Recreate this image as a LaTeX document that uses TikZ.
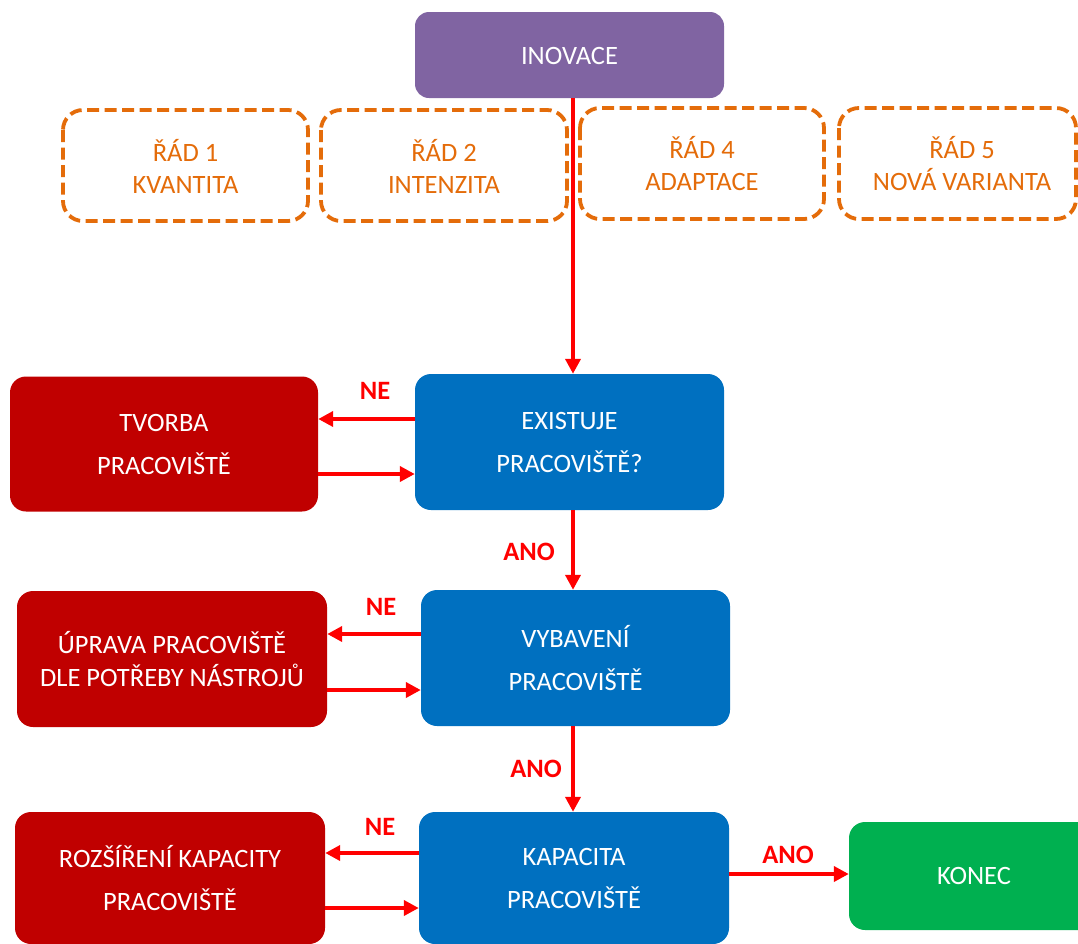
\documentclass[tikz,border=0pt]{standalone}
\usepackage{fontspec}
\setmainfont{Carlito}
\usetikzlibrary{arrows.meta}
\definecolor{purp}{HTML}{8064A2}
\definecolor{blu}{HTML}{0070C0}
\definecolor{dred}{HTML}{C00000}
\definecolor{grn}{HTML}{00B050}
\definecolor{orng}{HTML}{E46C0A}
\definecolor{arr}{HTML}{FF0000}
\begin{document}
\begin{tikzpicture}[x=1pt,y=-1pt,
  box/.style={rounded corners=16pt,text=white,font=\fontsize{26.5}{43}\selectfont,align=center,inner sep=0pt},
  dbox/.style={draw=orng,line width=3.8pt,dash pattern=on 12pt off 5.5pt,rounded corners=20pt,text=orng,font=\fontsize{26.5}{32}\selectfont,align=center,inner sep=0pt},
  conn/.style={draw=arr,line width=4pt,-{Triangle[length=15pt,width=15pt]}},
  lab/.style={text=arr,font=\bfseries\fontsize{26.5}{30}\selectfont,inner sep=0pt}]
\useasboundingbox (0,0) rectangle (1078,943);
% top
\fill[purp,rounded corners=14pt] (415,12) rectangle (724,98);
\node[box] (inov) at (569.5,56) {INOVACE};
\coordinate (inovS) at (573,98);
% dashed boxes
\draw[dbox] (63,110) rectangle (308,221);
\node[dbox,draw=none] (r1) at (185.5,166) {ŘÁD 1\\KVANTITA};
\draw[dbox] (321,110) rectangle (567,221);
\node[dbox,draw=none] (r2) at (444,166) {ŘÁD 2\\INTENZITA};
\draw[dbox] (580,108) rectangle (824,219);
\node[dbox,draw=none] (r4) at (702,164) {ŘÁD 4\\ADAPTACE};
\draw[dbox] (839,108) rectangle (1076,219);
\node[dbox,draw=none] (r5) at (962,164) {ŘÁD 5\\NOVÁ VARIANTA};
% row 1
\node[box,fill=blu,minimum width=309pt,minimum height=136pt] (ex) at (569.5,442) {EXISTUJE\\PRACOVIŠTĚ?};
\node[box,fill=dred,minimum width=308pt,minimum height=135pt] (tv) at (164,444) {TVORBA\\PRACOVIŠTĚ};
% row 2
\node[box,fill=blu,minimum width=309pt,minimum height=136pt] (vy) at (575.5,658) {VYBAVENÍ\\PRACOVIŠTĚ};
\node[box,fill=dred,minimum width=310pt,minimum height=136pt,font=\fontsize{26.5}{33}\selectfont] (up) at (172,659) {ÚPRAVA PRACOVIŠTĚ\\DLE POTŘEBY NÁSTROJŮ};
% row 3
\node[box,fill=blu,minimum width=310pt,minimum height=132pt] (ka) at (574,878) {KAPACITA\\PRACOVIŠTĚ};
\node[box,fill=dred,minimum width=310pt,minimum height=132pt] (ro) at (170,878) {ROZŠÍŘENÍ KAPACITY\\PRACOVIŠTĚ};
\node[box,fill=grn,minimum width=250pt,minimum height=108pt] (ko) at (974,876) {KONEC};
% connectors
\draw[conn] (inovS) -- (ex.north -| inovS);
\draw[conn] (ex.west |- 0,419) -- (tv.east |- 0,419);
\draw[conn] (tv.east |- 0,474) -- (ex.west |- 0,474);
\draw[conn] (ex.south -| inovS) -- (vy.north -| inovS);
\draw[conn] (vy.west |- 0,634) -- (up.east |- 0,634);
\draw[conn] (up.east |- 0,690) -- (vy.west |- 0,690);
\draw[conn] (vy.south -| inovS) -- (ka.north -| inovS);
\draw[conn] (ka.west |- 0,853) -- (ro.east |- 0,853);
\draw[conn] (ro.east |- 0,908) -- (ka.west |- 0,908);
\draw[conn] (ka.east |- 0,874) -- (ko.west |- 0,874);
% labels
\node[lab] (ne1) at (375,391) {NE};
\node[lab] (ano1) at (529,552) {ANO};
\node[lab] (ne2) at (381,607) {NE};
\node[lab] (ano2) at (536,769) {ANO};
\node[lab] (ne3) at (380,827) {NE};
\node[lab] (ano3) at (788,855) {ANO};
\end{tikzpicture}
\end{document}
